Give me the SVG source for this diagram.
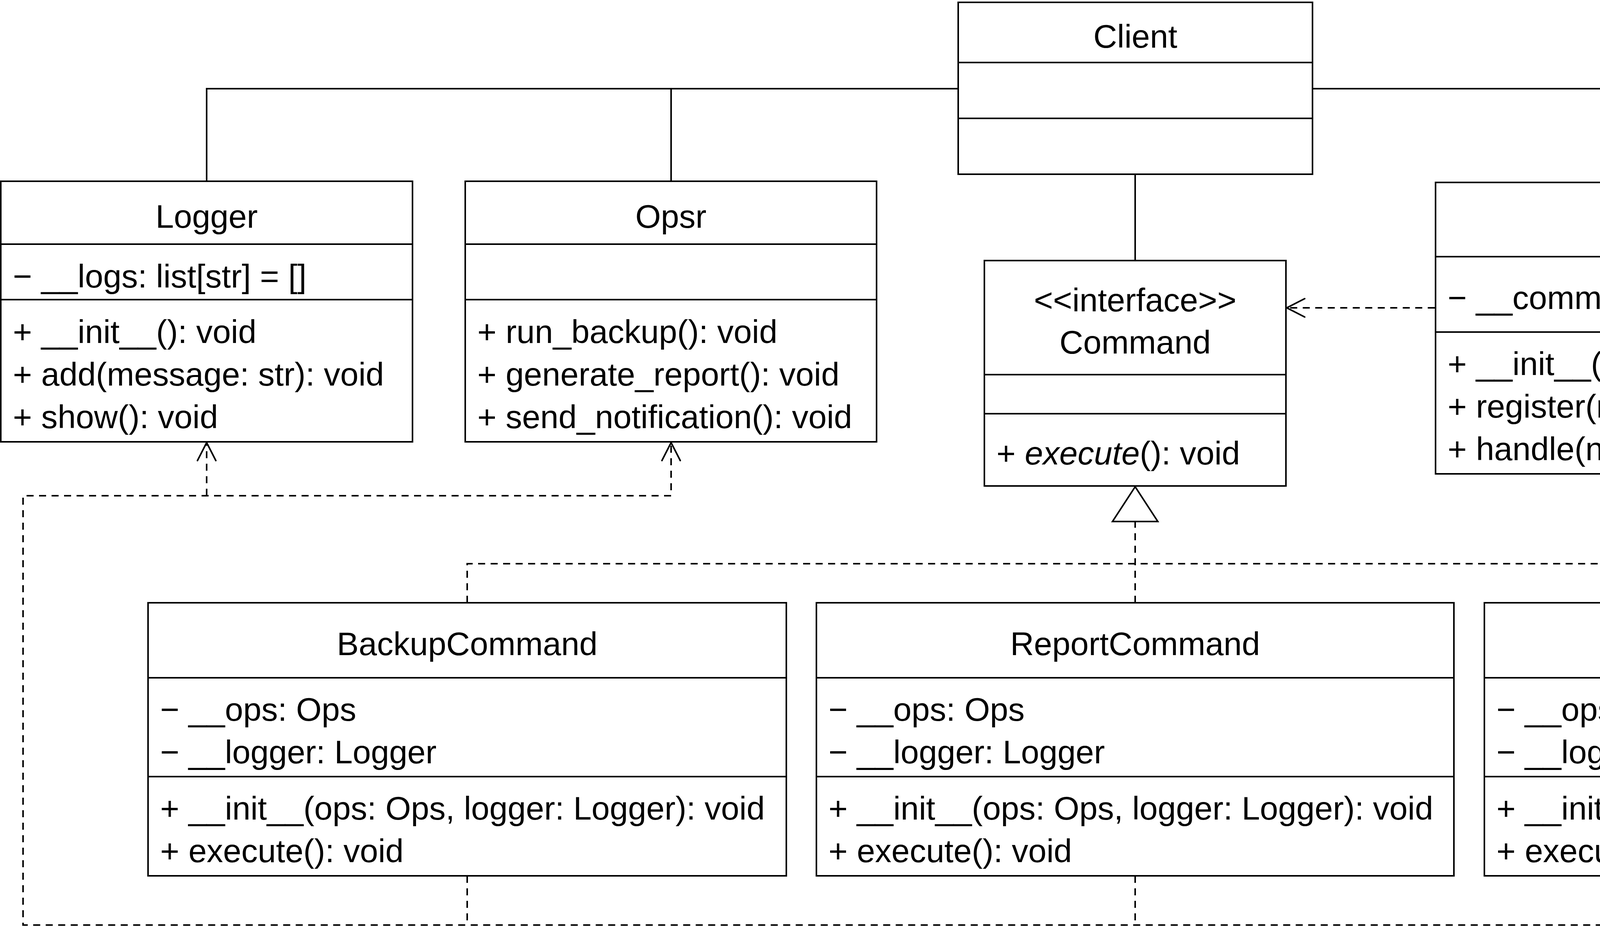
<svg xmlns="http://www.w3.org/2000/svg" width="5591" height="2373" viewBox="0 0 5591 2373">
<style>
.box{fill:#fff;stroke:#000;stroke-width:4}
.sep{stroke:#000;stroke-width:4}
.t{font-family:"Liberation Sans",Arial,sans-serif;font-size:84px;fill:#000}
.c{text-anchor:middle}
.solid{fill:none;stroke:#000;stroke-width:4}
.dash{fill:none;stroke:#000;stroke-width:4;stroke-dasharray:18 14}
</style>
<defs>
<marker id="open" markerUnits="userSpaceOnUse" viewBox="-60 -40 70 80" markerWidth="70" markerHeight="80" refX="0" refY="0" orient="auto" overflow="visible">
<path d="M-46,-23.5 L0,0 L-46,23.5" fill="none" stroke="#000" stroke-width="4" stroke-linecap="round"/>
</marker>
<marker id="tri" markerUnits="userSpaceOnUse" viewBox="-100 -70 110 140" markerWidth="110" markerHeight="140" refX="0" refY="0" orient="auto" overflow="visible">
<path d="M0,0 L-89,-58 L-89,58 Z" fill="#fff" stroke="#000" stroke-width="4" stroke-linejoin="miter"/>
</marker>
</defs>
<rect width="5591" height="2373" fill="#fff"/>
<g id="connectors">
<path class="solid" d="M529,464 V227 H2453"/>
<path class="solid" d="M1718,227 V464"/>
<path class="solid" d="M3360,227 H4630 V467"/>
<path class="solid" d="M2906,446 V667"/>
<path class="dash" d="M3673,788 H3294" marker-end="url(#open)"/>
<path class="dash" d="M1196,1543 V1443 H4617 V1543"/>
<path class="dash" d="M2906,1543 V1246" marker-end="url(#tri)"/>
<path class="dash" d="M4617,2242 V2368 H59 V1269 H1718 V1133" marker-end="url(#open)"/>
<path class="dash" d="M529,1269 V1133" marker-end="url(#open)"/>
<path class="dash" d="M1196,2242 V2368"/>
<path class="dash" d="M2906,2242 V2368"/>
</g>
<g id="Client">
<rect class="box" x="2453" y="6" width="907" height="440"/>
<line class="sep" x1="2453" y1="160" x2="3360" y2="160"/>
<line class="sep" x1="2453" y1="303" x2="3360" y2="303"/>
<text class="t c" x="2906.5" y="122">Client</text>
</g>
<g id="Logger">
<rect class="box" x="2" y="464" width="1054" height="667"/>
<line class="sep" x1="2" y1="625" x2="1056" y2="625"/>
<line class="sep" x1="2" y1="767" x2="1056" y2="767"/>
<text class="t c" x="529" y="583">Logger</text>
<text class="t" x="33" y="736">− __logs: list[str] = []</text>
<text class="t" x="33" y="878">+ __init__(): void</text>
<text class="t" x="33" y="987">+ add(message: str): void</text>
<text class="t" x="33" y="1096">+ show(): void</text>
</g>
<g id="Opsr">
<rect class="box" x="1191" y="464" width="1053" height="667"/>
<line class="sep" x1="1191" y1="625" x2="2244" y2="625"/>
<line class="sep" x1="1191" y1="767" x2="2244" y2="767"/>
<text class="t c" x="1717.5" y="583">Opsr</text>
<text class="t" x="1222" y="878">+ run_backup(): void</text>
<text class="t" x="1222" y="987">+ generate_report(): void</text>
<text class="t" x="1222" y="1096">+ send_notification(): void</text>
</g>
<g id="Command">
<rect class="box" x="2520" y="667" width="772" height="577"/>
<line class="sep" x1="2520" y1="959" x2="3292" y2="959"/>
<line class="sep" x1="2520" y1="1059" x2="3292" y2="1059"/>
<text class="t c" x="2906" y="797">&lt;&lt;interface&gt;&gt;</text>
<text class="t c" x="2906" y="905">Command</text>
<text class="t" x="2551" y="1189">+ <tspan font-style="italic">execute</tspan>(): void</text>
</g>
<g id="Invoker">
<rect class="box" x="3675" y="467" width="1911" height="746"/>
<line class="sep" x1="3675" y1="657" x2="5586" y2="657"/>
<line class="sep" x1="3675" y1="850" x2="5586" y2="850"/>
<text class="t c" x="4630.5" y="600">Invoker</text>
<text class="t" x="3706" y="791">− __command: dict[str, Command] = { }</text>
<text class="t" x="3706" y="960">+ __init__(command:dict[str, Command]): void</text>
<text class="t" x="3706" y="1069">+ register(name: str, command: Command): void</text>
<text class="t" x="3706" y="1178">+ handle(name: str): void</text>
</g>
<g id="BackupCommand">
<rect class="box" x="379" y="1543" width="1634" height="699"/>
<line class="sep" x1="379" y1="1735" x2="2013" y2="1735"/>
<line class="sep" x1="379" y1="1988" x2="2013" y2="1988"/>
<text class="t c" x="1196" y="1677">BackupCommand</text>
<text class="t" x="410" y="1845">− __ops: Ops</text>
<text class="t" x="410" y="1954">− __logger: Logger</text>
<text class="t" x="410" y="2098">+ __init__(ops: Ops, logger: Logger): void</text>
<text class="t" x="410" y="2207">+ execute(): void</text>
</g>
<g id="ReportCommand">
<rect class="box" x="2090" y="1543" width="1632" height="699"/>
<line class="sep" x1="2090" y1="1735" x2="3722" y2="1735"/>
<line class="sep" x1="2090" y1="1988" x2="3722" y2="1988"/>
<text class="t c" x="2906" y="1677">ReportCommand</text>
<text class="t" x="2121" y="1845">− __ops: Ops</text>
<text class="t" x="2121" y="1954">− __logger: Logger</text>
<text class="t" x="2121" y="2098">+ __init__(ops: Ops, logger: Logger): void</text>
<text class="t" x="2121" y="2207">+ execute(): void</text>
</g>
<g id="NotifyCommand">
<rect class="box" x="3800" y="1543" width="1633" height="699"/>
<line class="sep" x1="3800" y1="1735" x2="5433" y2="1735"/>
<line class="sep" x1="3800" y1="1988" x2="5433" y2="1988"/>
<text class="t c" x="4616.5" y="1677">NotifyCommand</text>
<text class="t" x="3831" y="1845">− __ops: Ops</text>
<text class="t" x="3831" y="1954">− __logger: Logger</text>
<text class="t" x="3831" y="2098">+ __init__(ops: Ops, logger: Logger): void</text>
<text class="t" x="3831" y="2207">+ execute(): void</text>
</g>
</svg>
